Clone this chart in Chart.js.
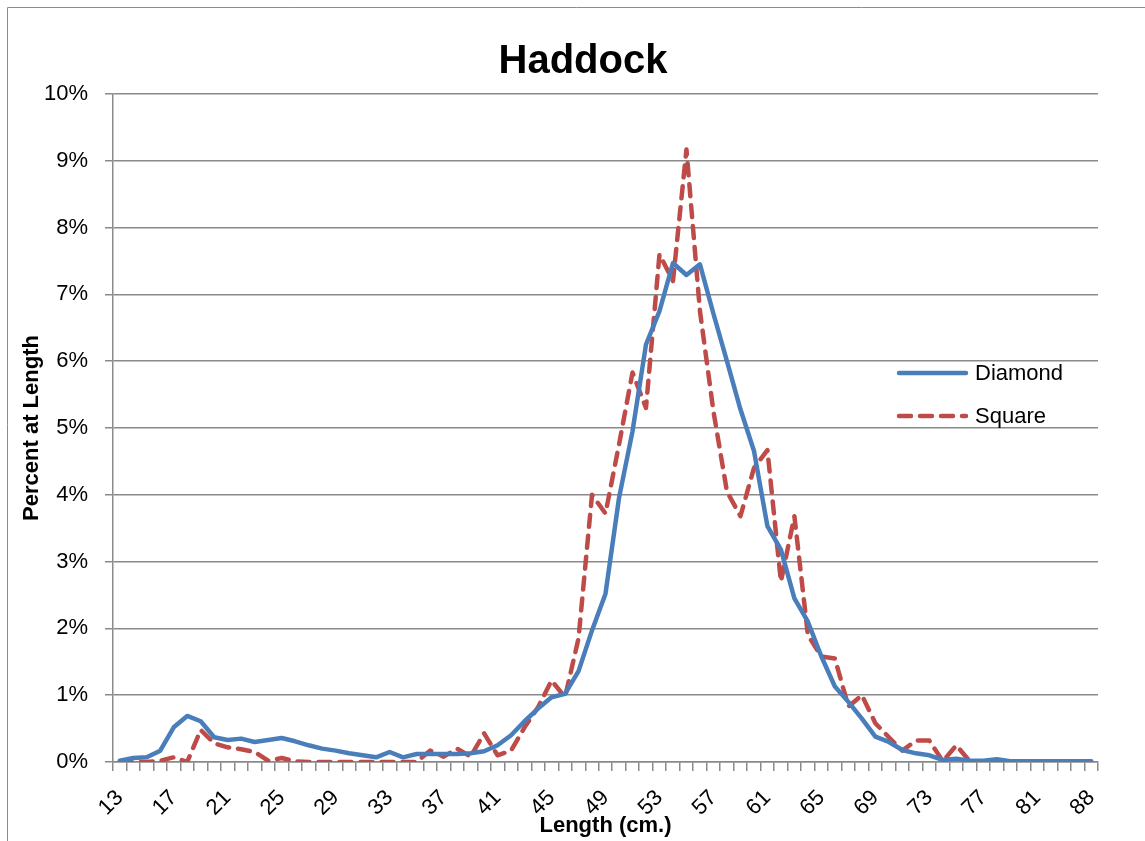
<!DOCTYPE html>
<html>
<head>
<meta charset="utf-8">
<script src="https://cdn.jsdelivr.net/npm/chart.js@4.4.1/dist/chart.umd.min.js"></script>
<style>
html,body{margin:0;padding:0;background:#ffffff;}
#wrap{width:1145px;height:841px;position:relative;}
</style>
</head>
<body>
<div id="wrap"><canvas id="c"></canvas></div>
<script>
const chartTitle = "Haddock";
const xAxisTitle = "Length (cm.)";
const yAxisTitle = "Percent at Length";
const lengths = ["13","14","15","16","17","18","19","20","21","22","23","24","25","26","27","28","29","30","31","32","33","34","35","36","37","38","39","40","41","42","43","44","45","46","47","48","49","50","51","52","53","54","55","56","57","58","59","60","61","62","63","64","65","66","67","68","69","70","71","72","73","74","75","76","77","78","79","80","81","82","83","84","88"];
const diamond = [0.02,0.06,0.07,0.17,0.52,0.69,0.61,0.37,0.33,0.35,0.30,0.33,0.36,0.31,0.25,0.20,0.17,0.13,0.10,0.07,0.15,0.07,0.12,0.12,0.12,0.12,0.13,0.16,0.25,0.40,0.61,0.80,0.97,1.02,1.36,1.97,2.52,3.95,4.95,6.25,6.75,7.47,7.29,7.45,6.71,6.00,5.28,4.66,3.53,3.18,2.45,2.10,1.58,1.13,0.90,0.65,0.38,0.30,0.18,0.13,0.10,0.03,0.05,0.02,0.02,0.04,0.01,0.01,0.01,0.01,0.01,0.01,0.01];
const square = [0,0,0,0.02,0.07,0,0.48,0.28,0.22,0.19,0.15,0.02,0.06,0.01,0,0,0,0,0,0,0,0,0,0.17,0.08,0.20,0.08,0.43,0.10,0.17,0.52,0.82,1.22,0.97,1.85,4.00,3.72,4.75,5.83,5.30,7.60,7.20,9.17,6.75,5.25,4.05,3.68,4.40,4.67,2.70,3.68,1.90,1.58,1.55,0.83,1.00,0.58,0.37,0.17,0.32,0.32,0.01,0.25,0.01,0,0,0,0,0,0,0,0,0];
const yMin = 0, yMax = 10, yStep = 1;

const FONT = '"Liberation Sans", Arial, sans-serif';
const BLUE = '#4A7EBB';
const RED = '#BE4B48';
const GRID = '#8a8a8a';

const decor = {
  id: 'decor',
  afterDraw(chart) {
    const ctx = chart.ctx;
    ctx.save();
    ctx.strokeStyle = '#8c8c8c';
    ctx.lineWidth = 1;
    ctx.beginPath();
    ctx.moveTo(7.5, 900); ctx.lineTo(7.5, 7.5); ctx.lineTo(1200, 7.5);
    ctx.stroke();
    ctx.fillStyle = '#000';
    ctx.font = 'bold 40px ' + FONT;
    ctx.textAlign = 'center';
    ctx.textBaseline = 'alphabetic';
    ctx.fillText(chartTitle, 583, 73);
    const items = chart.data.datasets;
    const ys = [373, 416];
    ctx.font = '22px ' + FONT;
    ctx.textAlign = 'left';
    ctx.textBaseline = 'middle';
    items.forEach((ds, k) => {
      ctx.strokeStyle = ds.borderColor;
      ctx.lineWidth = 4.5;
      ctx.lineCap = 'round';
      ctx.setLineDash(ds.borderDash || []);
      ctx.beginPath();
      ctx.moveTo(899, ys[k]); ctx.lineTo(966, ys[k]);
      ctx.stroke();
      ctx.setLineDash([]);
      ctx.fillStyle = '#000';
      ctx.fillText(ds.label, 975, ys[k] + 1);
    });
    ctx.restore();
  }
};

new Chart(document.getElementById('c'), {
  type: 'line',
  data: {
    labels: lengths,
    datasets: [
      {label: 'Diamond', data: diamond, borderColor: BLUE, backgroundColor: BLUE, borderWidth: 4.5, pointRadius: 0, tension: 0, borderJoinStyle: 'round', borderCapStyle: 'round', fill: false},
      {label: 'Square', data: square, borderColor: RED, backgroundColor: RED, borderWidth: 4.5, borderDash: [12, 9], pointRadius: 0, tension: 0, borderJoinStyle: 'round', borderCapStyle: 'round', fill: false}
    ]
  },
  options: {
    responsive: true,
    maintainAspectRatio: false,
    animation: false,
    events: [],
    layout: {padding: {top: 94, right: 47, left: 19, bottom: 0}},
    plugins: {legend: {display: false}, title: {display: false}, tooltip: {enabled: false}},
    scales: {
      x: {
        type: 'category',
        offset: true,
        grid: {display: true, drawOnChartArea: false, drawTicks: true, tickLength: 9, offset: true, color: GRID, lineWidth: 1.5},
        border: {display: true, color: GRID, width: 1.5},
        ticks: {
          autoSkip: false, minRotation: 45, maxRotation: 45, padding: 14, color: '#000',
          font: {family: FONT, size: 22},
          callback: function(v, i) { return i % 4 === 0 ? this.getLabelForValue(v) : ''; }
        },
        title: {display: true, text: xAxisTitle, color: '#000', font: {family: FONT, size: 22, weight: 'bold'}, padding: {top: 0, bottom: 2}},
        afterFit(scale) { scale.height = 79; }
      },
      y: {
        min: yMin, max: yMax,
        grid: {display: true, drawTicks: true, tickLength: 8, color: GRID, lineWidth: 1.5},
        border: {display: true, color: GRID, width: 1.5},
        ticks: {stepSize: yStep, padding: 17, color: '#000', font: {family: FONT, size: 22}, callback: v => v + '%'},
        title: {display: true, text: yAxisTitle, color: '#000', font: {family: FONT, size: 22, weight: 'bold'}, padding: {top: 0, bottom: 0}},
        afterFit(scale) { scale.width = 94; }
      }
    }
  },
  plugins: [decor]
});
</script>
</body>
</html>
